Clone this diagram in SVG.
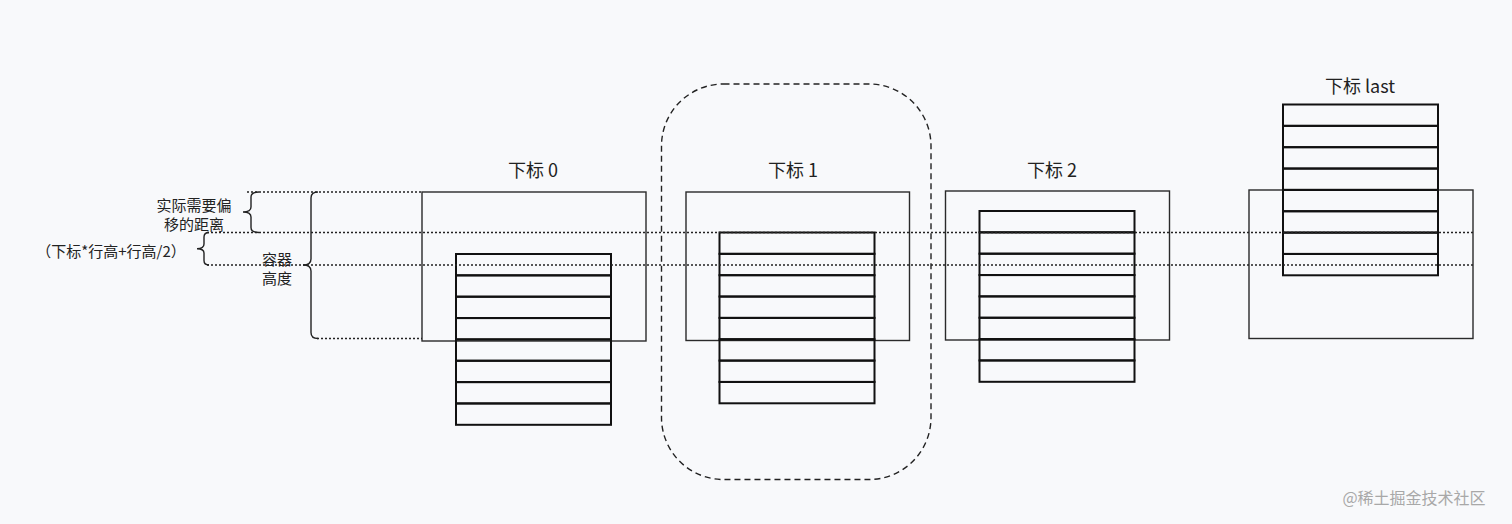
<svg xmlns="http://www.w3.org/2000/svg" width="1512" height="524" viewBox="0 0 1512 524">
<style>
.bg{fill:#f8f9fb}
.cont{fill:none;stroke:#2a2a2a;stroke-width:1.4}
.row{fill:none;stroke:#111;stroke-width:2}
.dot{fill:none;stroke:#222;stroke-width:1.4;stroke-dasharray:2 2}
.dash{fill:none;stroke:#222;stroke-width:1.4;stroke-dasharray:6 4}
.brace{fill:none;stroke:#222;stroke-width:1.4}
.t{font-family:"Noto Sans CJK SC","Noto Sans",sans-serif;fill:#222;text-anchor:middle;dominant-baseline:central}
.lbl{font-size:18px}
.sm{font-size:15px}
.wm{font-family:"Noto Sans CJK SC","Noto Sans",sans-serif;font-size:16px;fill:#a8a8a8;text-anchor:middle;dominant-baseline:central}
</style>
<defs>
<g id="list">
<rect class="row" x="0" y="0" width="155" height="21.35"/>
<rect class="row" x="0" y="21.35" width="155" height="21.35"/>
<rect class="row" x="0" y="42.7" width="155" height="21.35"/>
<rect class="row" x="0" y="64.05" width="155" height="21.35"/>
<rect class="row" x="0" y="85.4" width="155" height="21.35"/>
<rect class="row" x="0" y="106.75" width="155" height="21.35"/>
<rect class="row" x="0" y="128.1" width="155" height="21.35"/>
<rect class="row" x="0" y="149.45" width="155" height="21.35"/>
</g>
</defs>
<rect class="bg" x="0" y="0" width="1512" height="524"/>

<g id="highlight">
<rect class="dash" x="661.5" y="84" width="269.5" height="395.5" rx="62" ry="62"/>
</g>

<g id="node-0">
<text class="t lbl" x="533" y="169">下标 0</text>
<rect class="cont" x="422" y="192" width="224" height="149"/>
<use href="#list" x="456" y="254"/>
</g>

<g id="node-1">
<text class="t lbl" x="793" y="169">下标 1</text>
<rect class="cont" x="686" y="192" width="223.5" height="148.5"/>
<use href="#list" x="719.5" y="232.5"/>
</g>

<g id="node-2">
<text class="t lbl" x="1052" y="169">下标 2</text>
<rect class="cont" x="945.5" y="191" width="224" height="149"/>
<use href="#list" x="979.5" y="211"/>
</g>

<g id="node-last">
<text class="t lbl" x="1360" y="85">下标 last</text>
<rect class="cont" x="1249" y="190" width="224" height="148.5"/>
<use href="#list" x="1283" y="104.5"/>
</g>

<g id="connectors">
<line class="dot" x1="247" y1="192" x2="422" y2="192"/>
<line class="dot" x1="207" y1="232.5" x2="1473" y2="232.5"/>
<line class="dot" x1="207" y1="265" x2="1473" y2="265"/>
<line class="dot" x1="317" y1="338.5" x2="422" y2="338.5"/>
</g>

<g id="braces">
<path class="brace" d="M259,192 Q251,192 251,197 L251,207 Q251,212 243,212 Q251,212 251,217 L251,227.5 Q251,232.5 259,232.5"/>
<path class="brace" d="M209,232.5 Q204,232.5 204,237 L204,244 Q204,248.7 197,248.7 Q204,248.7 204,253 L204,260.5 Q204,265 209,265"/>
<path class="brace" d="M318,192 Q311,192 311,198 L311,259 Q311,265 303,265 Q311,265 311,271 L311,332.5 Q311,338.5 318,338.5"/>
</g>

<g id="labels">
<text class="t sm" x="194" y="204">实际需要偏</text>
<text class="t sm" x="194" y="223">移的距离</text>
<text class="t sm" x="111" y="250">（下标*行高+行高/2）</text>
<text class="t sm" x="277" y="258">容器</text>
<text class="t sm" x="277" y="277">高度</text>
</g>

<text class="wm" x="1414" y="497">@稀土掘金技术社区</text>
</svg>
